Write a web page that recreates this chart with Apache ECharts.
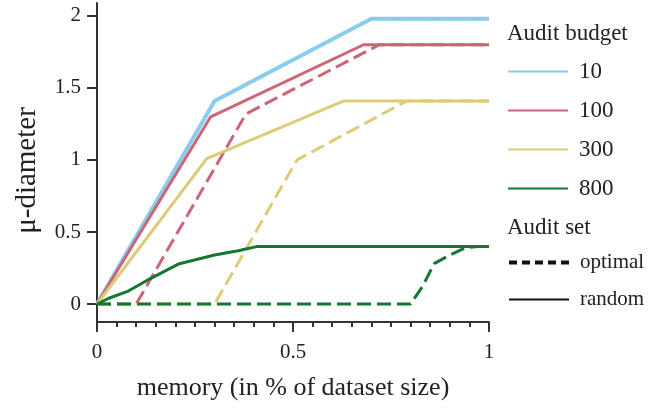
<!DOCTYPE html>
<html>
<head>
<meta charset="utf-8">
<script src="https://cdn.jsdelivr.net/npm/echarts@6/dist/echarts.min.js"></script>
<style>html,body{margin:0;padding:0;background:#fff;}#c{width:670px;height:415px;}</style>
</head>
<body>
<div id="c"></div>
<script>
// Values
const budgets = ['10', '100', '300', '800'];
const budgetColors = ['#88CCEE', '#CC6677', '#DDCC77', '#117733'];
const xTicks = [0, 0.5, 1];
const yTicks = [0, 0.5, 1, 1.5, 2];

// random audit set (solid)
const random10  = [[0, 0], [0.3, 1.41], [0.7, 1.98], [1, 1.98]];
const random100 = [[0, 0], [0.29, 1.30], [0.68, 1.80], [1, 1.80]];
const random300 = [[0, 0], [0.28, 1.01], [0.63, 1.41], [1, 1.41]];
const random800 = [[0, 0], [0.03, 0.04], [0.08, 0.09], [0.135, 0.175], [0.21, 0.28], [0.3, 0.34], [0.36, 0.37], [0.41, 0.40], [1, 0.40]];

// optimal audit set (dashed)
const optimal10  = [[0, 0], [0.3, 1.41], [0.7, 1.98], [1, 1.98]];
const optimal100 = [[0, 0], [0.1, 0], [0.38, 1.32], [0.72, 1.80], [1, 1.80]];
const optimal300 = [[0, 0], [0.3, 0], [0.51, 1.0], [0.79, 1.41], [1, 1.41]];
const optimal800 = [[0, 0], [0.8, 0], [0.83, 0.12], [0.86, 0.28], [0.9, 0.34], [0.94, 0.39], [0.97, 0.40], [1, 0.40]];

const randomData = [random10, random100, random300, random800];
const optimalData = [optimal10, optimal100, optimal300, optimal800];
const solidWidths = [4, 3, 3, 3];

const FONT = '"Liberation Serif", "Times New Roman", serif';
const TXT = '#222';
const AX = '#333';

const series = [];
budgets.forEach((b, i) => {
  series.push({
    name: b, type: 'line', data: optimalData[i], symbol: 'none', silent: true,
    lineStyle: { color: budgetColors[i], width: 3, type: [14, 6] },
    itemStyle: { color: budgetColors[i] }
  });
  series.push({
    name: b, type: 'line', data: randomData[i], symbol: 'none', silent: true,
    lineStyle: { color: budgetColors[i], width: solidWidths[i] },
    itemStyle: { color: budgetColors[i] }
  });
});
series.push({ name: 'optimal', type: 'line', data: [], symbol: 'none',
  lineStyle: { color: '#111', width: 4, type: [8, 5] }, itemStyle: { color: '#111' } });
series.push({ name: 'random', type: 'line', data: [], symbol: 'none',
  lineStyle: { color: '#111', width: 2 }, itemStyle: { color: '#111' } });

const chart = echarts.init(document.getElementById('c'), null, { renderer: 'canvas' });
chart.setOption({
  animation: false,
  backgroundColor: '#fff',
  textStyle: { fontFamily: FONT },
  grid: { left: 97, right: 181, top: 3, bottom: 93, containLabel: false },
  title: [
    { text: 'Audit budget', left: 507, top: 22, padding: 0,
      textStyle: { fontFamily: FONT, fontSize: 23, fontWeight: 'normal', color: TXT } },
    { text: 'Audit set', left: 507, top: 216, padding: 0,
      textStyle: { fontFamily: FONT, fontSize: 23, fontWeight: 'normal', color: TXT } }
  ],
  legend: [
    {
      orient: 'vertical', left: 507, top: 60, padding: 0,
      itemWidth: 60, itemHeight: 14, itemGap: 16,
      itemStyle: { opacity: 0 },
      data: budgets.map((b, i) => ({ name: b, lineStyle: { width: 2, color: budgetColors[i], type: 'solid', opacity: 1 } })),
      textStyle: { fontFamily: FONT, fontSize: 23, color: TXT, padding: [0, 0, 0, 6] }
    },
    {
      orient: 'vertical', left: 507, top: 252, padding: 0,
      itemWidth: 60, itemHeight: 14, itemGap: 16,
      itemStyle: { opacity: 0 },
      data: [
        { name: 'optimal', lineStyle: { width: 4, color: '#111', type: [8, 5], opacity: 1 } },
        { name: 'random', lineStyle: { width: 2, color: '#111', type: 'solid', opacity: 1 } }
      ],
      textStyle: { fontFamily: FONT, fontSize: 21, color: TXT, padding: [0, 0, 0, 6] }
    }
  ],
  xAxis: {
    type: 'value', min: 0, max: 1, interval: 0.5,
    name: 'memory (in % of dataset size)', nameLocation: 'middle', nameGap: 53,
    nameTextStyle: { fontFamily: FONT, fontSize: 26, color: TXT },
    axisLine: { onZero: false, lineStyle: { color: AX, width: 2 } },
    axisTick: { show: true, length: 10, lineStyle: { color: AX, width: 2 }, customValues: xTicks },
    minorTick: { show: true, splitNumber: 10, length: 5, lineStyle: { color: AX, width: 2 } },
    axisLabel: { fontFamily: FONT, fontSize: 21, color: TXT, margin: 20, customValues: xTicks,
      formatter: v => String(v) },
    splitLine: { show: false }
  },
  yAxis: {
    type: 'value', min: -0.125, max: 2.09,
    name: 'μ-diameter', nameLocation: 'middle', nameGap: 55, nameRotate: 90,
    nameTextStyle: { fontFamily: FONT, fontSize: 29, color: TXT, padding: [0, 16, 0, 0] },
    axisLine: { show: true, lineStyle: { color: AX, width: 2 } },
    axisTick: { show: true, length: 10, lineStyle: { color: AX, width: 2 }, customValues: yTicks },
    axisLabel: { fontFamily: FONT, fontSize: 21, color: TXT, margin: 16, customValues: yTicks,
      formatter: v => String(v) },
    splitLine: { show: false }
  },
  series: series
});
</script>
</body>
</html>
